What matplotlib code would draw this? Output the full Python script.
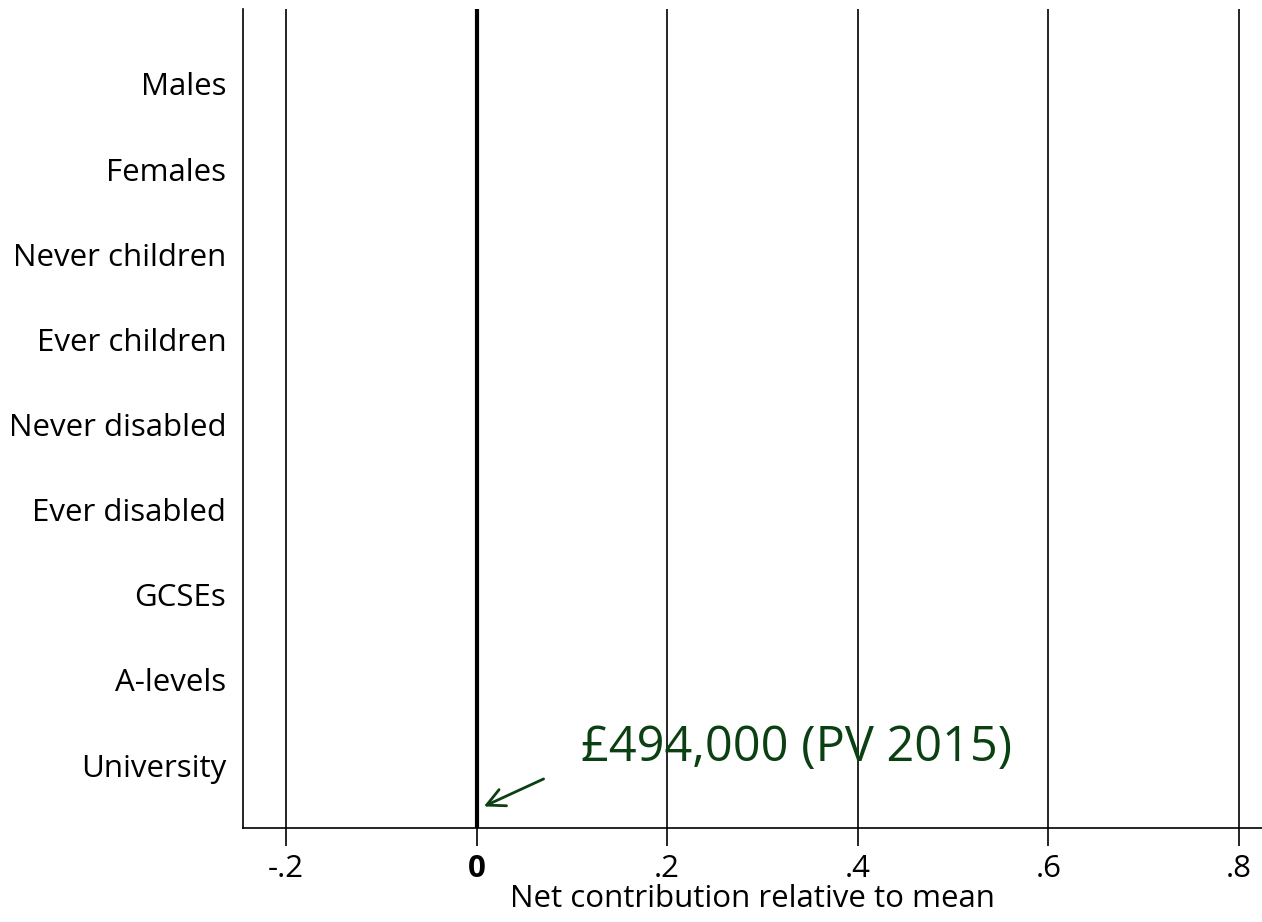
import matplotlib
matplotlib.use("Agg")
import matplotlib.pyplot as plt

categories = ["Males", "Females", "Never children", "Ever children",
              "Never disabled", "Ever disabled", "GCSEs", "A-levels", "University"]
x_ticks = [-0.2, 0, 0.2, 0.4, 0.6, 0.8]
x_tick_labels = ["-.2", "0", ".2", ".4", ".6", ".8"]
note_text = "£494,000 (PV 2015)"
note_xy = (0.005, 8.5)
note_text_xy = (0.11, 7.95)

plt.rcParams['font.family'] = ['Open Sans', 'DejaVu Sans']

fig = plt.figure(figsize=(12.62, 9.22), dpi=100)
ax = fig.add_axes([243 / 1262, 94 / 922, 1 - 243 / 1262, (828 - 9) / 922])

ypos = list(range(len(categories)))
ax.set_yticks(ypos)
ax.set_yticklabels(categories, fontsize=22.5)
ax.tick_params(axis='y', length=0, pad=12)
ax.set_ylim(len(categories) - 1 + 0.74, -0.88)

ax.set_xlim(-0.245, 0.824)
ax.set_xticks(x_ticks)
ax.set_xticklabels(x_tick_labels, fontsize=22.5)
ax.get_xticklabels()[1].set_fontweight('bold')
ax.tick_params(axis='x', length=13, width=1.2, pad=6)

for x in x_ticks:
    ax.axvline(x, color='black', lw=3 if x == 0 else 1.2, zorder=1)

for s in ['top', 'right']:
    ax.spines[s].set_visible(False)
ax.spines['left'].set_linewidth(1.2)
ax.spines['bottom'].set_linewidth(1.2)

ax.set_xlabel("Net contribution relative to mean", fontsize=22.5, labelpad=0)

green = '#0b4013'
ax.annotate("", xy=note_xy, xytext=(0.073, 8.15),
            arrowprops=dict(arrowstyle='->', color=green, lw=2, mutation_scale=32))
ax.text(note_text_xy[0], note_text_xy[1], note_text, color=green, fontsize=35,
        ha='left', va='baseline')

fig.savefig("out.png", dpi=100)
